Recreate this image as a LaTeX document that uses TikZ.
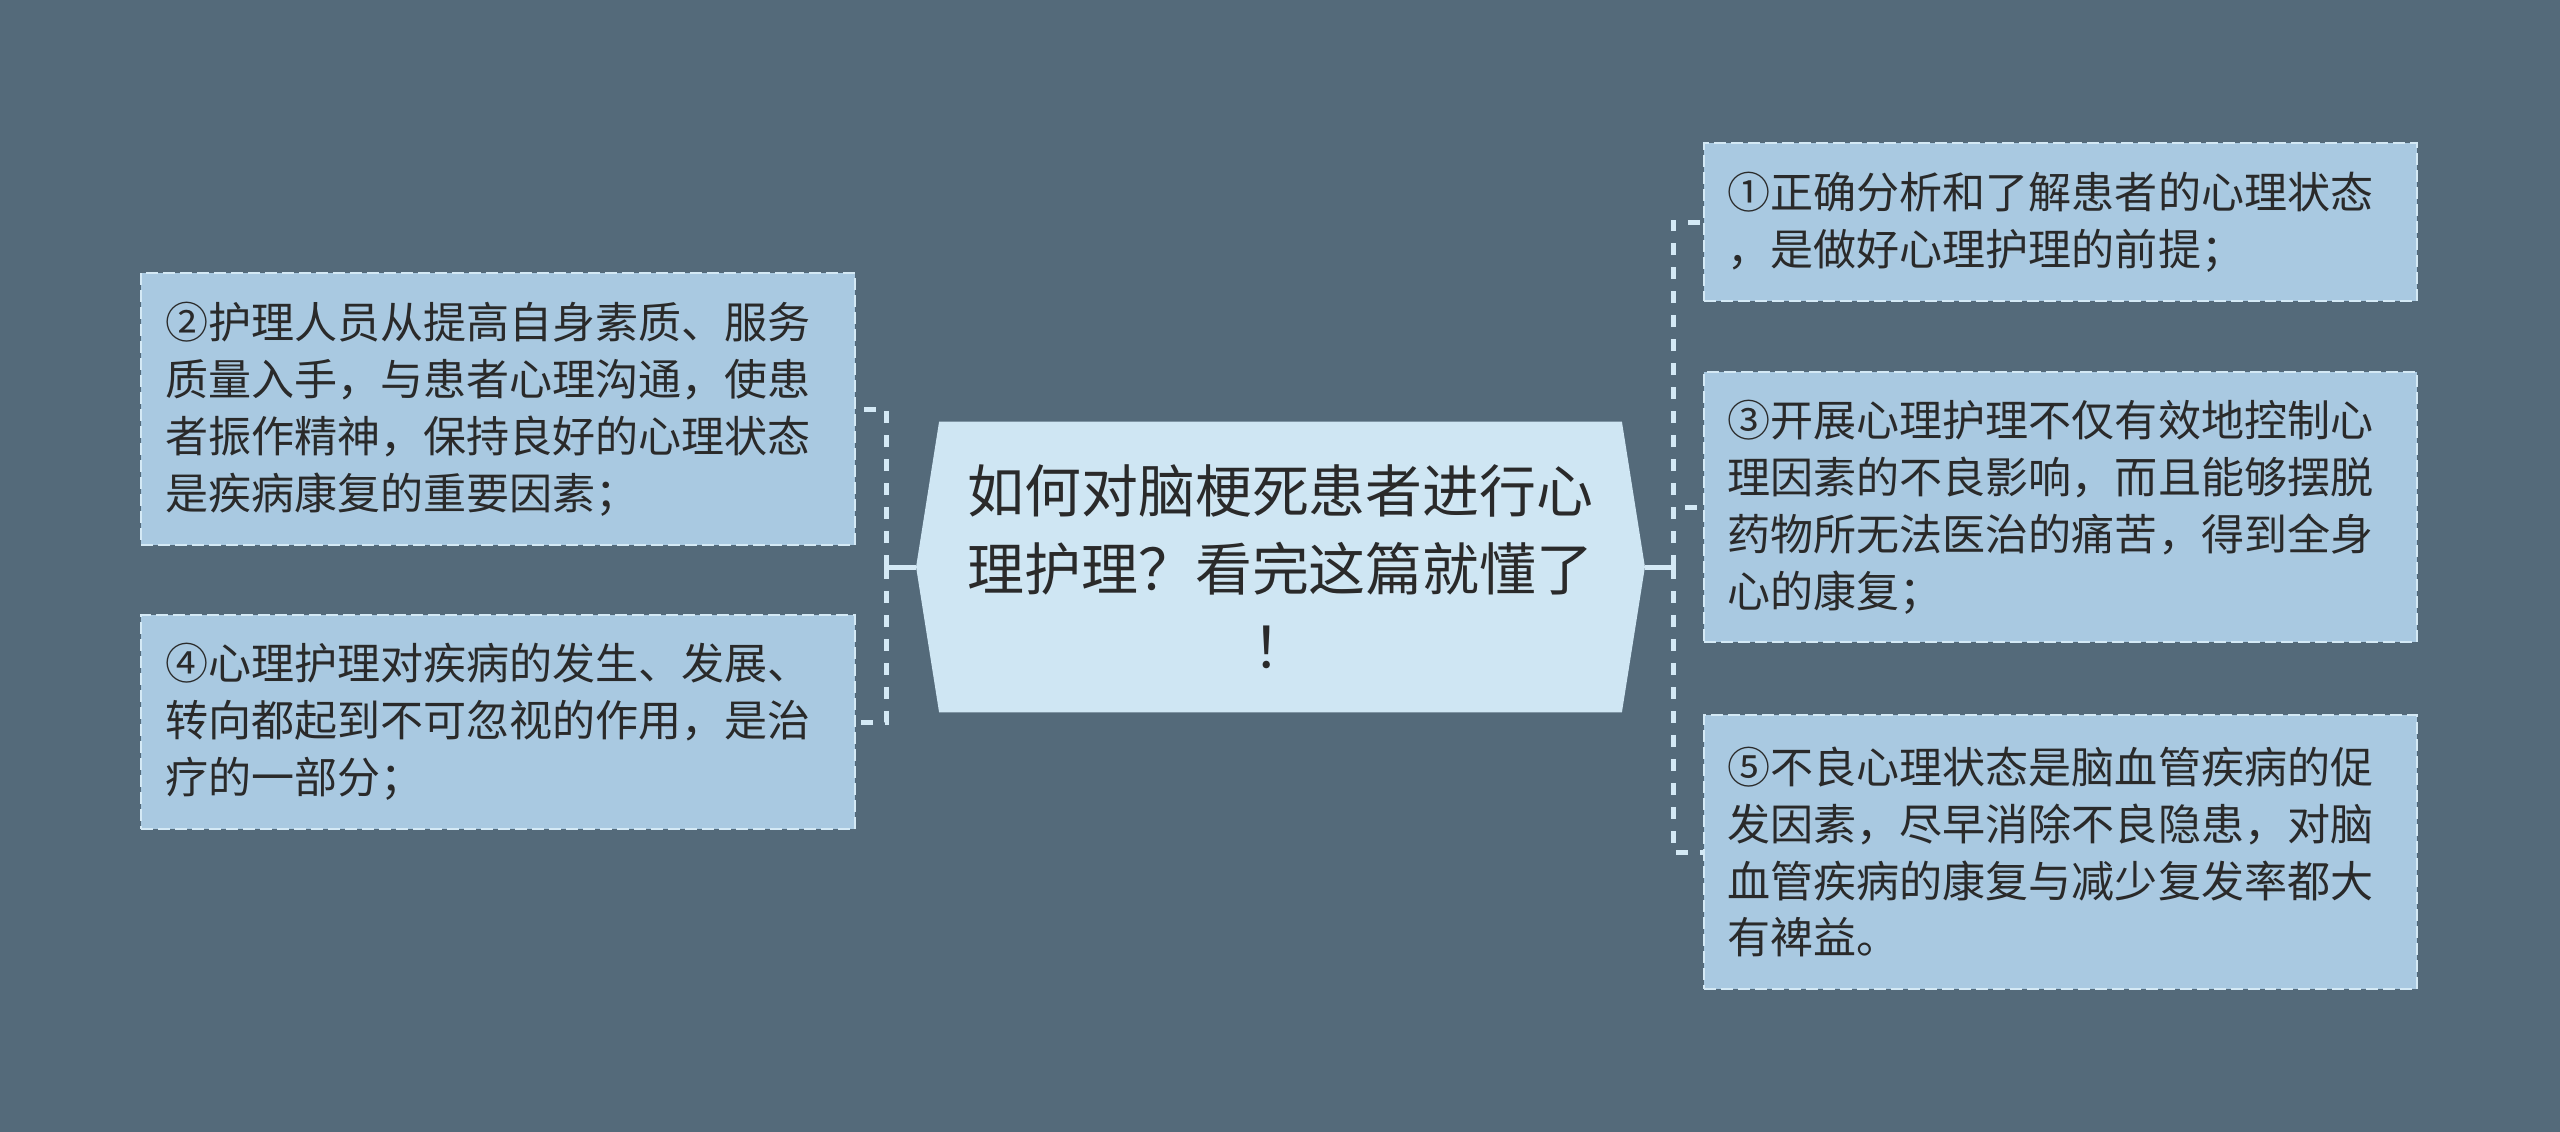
\documentclass[tikz,border=0pt]{standalone}
\usepackage{fontspec}
\setmainfont{Noto Sans CJK SC}
\usetikzlibrary{shapes.symbols}

\definecolor{bgslate}{HTML}{546A7A}
\definecolor{leaffill}{HTML}{A9C9E1}
\definecolor{rootfill}{HTML}{CFE6F3}
\definecolor{dashline}{HTML}{D4E9F5}
\definecolor{inktext}{HTML}{2A2A2A}

\tikzset{
  leafbox/.style={draw=dashline, fill=leaffill, line width=0.04cm,
    dash pattern=on 0.24cm off 0.1cm, text=inktext,
    minimum width=14.28cm, text width=13.32cm, inner xsep=0.48cm,
    align=left, font=\fontsize{24.5pt}{32.4pt}\selectfont},
  rootbox/.style={signal, signal to=west and east, signal pointer angle=162,
    fill=rootfill, text=inktext, minimum width=14.58cm, minimum height=5.82cm,
    align=center, font=\fontsize{32.4pt}{44.4pt}\selectfont},
  rootlink/.style={draw=dashline, line width=0.1cm},
  branchlink/.style={draw=dashline, line width=0.1cm, dash pattern=on 0.24cm off 0.24cm}
}

\begin{document}
\begin{tikzpicture}[x=0.02cm, y=-0.02cm]

% background
\fill[bgslate] (0,0) rectangle (2560,1132);

% root
\node[rootbox] (root) at (1280.5,567) {如何对脑梗死患者进行心\\理护理？看完这篇就懂了\\！};

% left side
\node[leafbox, minimum height=5.44cm] (two) at (498,409)
  {②护理人员从提高自身素质、服务\\质量入手，与患者心理沟通，使患\\者振作精神，保持良好的心理状态\\是疾病康复的重要因素；};
\node[leafbox, minimum height=4.28cm] (four) at (498,722)
  {④心理护理对疾病的发生、发展、\\转向都起到不可忽视的作用，是治\\疗的一部分；};

% right side
\node[leafbox, minimum height=3.16cm] (one) at (2060.5,222)
  {①正确分析和了解患者的心理状态\\，是做好心理护理的前提；};
\node[leafbox, minimum height=5.4cm] (three) at (2060.5,507)
  {③开展心理护理不仅有效地控制心\\理因素的不良影响，而且能够摆脱\\药物所无法医治的痛苦，得到全身\\心的康复；};
\node[leafbox, minimum height=5.48cm] (five) at (2060.5,852)
  {⑤不良心理状态是脑血管疾病的促\\发因素，尽早消除不良隐患，对脑\\血管疾病的康复与减少复发率都大\\有裨益。};

% connectors
\coordinate (ljoint) at (886,567);
\coordinate (rjoint) at (1673,567);

\draw[rootlink] (root.west) -- (ljoint);
\draw[rootlink] (root.east) -- (rjoint);

\draw[branchlink] (ljoint) |- (two.east);
\draw[branchlink] (ljoint) |- (four.east);
\draw[branchlink] (rjoint) |- (one.west);
\draw[branchlink] (rjoint) |- (three.west);
\draw[branchlink] (rjoint) |- (five.west);

\end{tikzpicture}
\end{document}
